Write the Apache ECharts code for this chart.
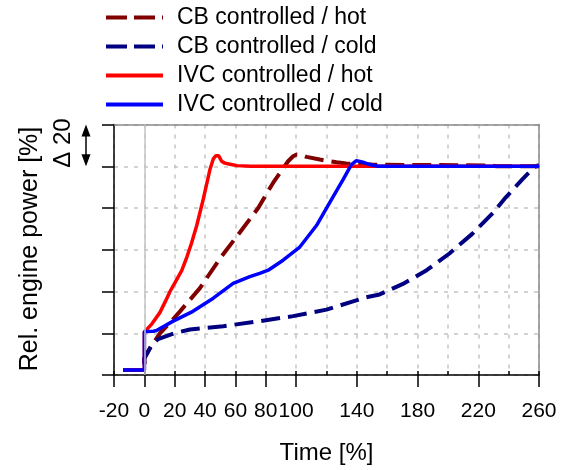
<!DOCTYPE html>
<html>
<head>
<meta charset="utf-8">
<script src="https://cdn.jsdelivr.net/npm/echarts@6/dist/echarts.min.js"></script>
<style>
  html, body { margin: 0; padding: 0; background: #fff; }
  #main { width: 565px; height: 470px; }
</style>
</head>
<body>
<div id="main"></div>
<script>
const chartDom = document.getElementById("main");
const myChart = echarts.init(chartDom);

const FONT = "'Liberation Sans', Arial, sans-serif";

// ticks / labels
const xLabelValues = [-20, 0, 20, 40, 60, 80, 100, 140, 180, 220, 260];

// [time %, rel. power %]
const cbHot = [
  [-14, 2.4], [0, 2.4], [0, 8], [3.7, 13], [10.3, 20], [15.8, 24.2], [23.5, 30.5],
  [30, 36], [36.6, 41.6], [49.8, 55.8], [63, 68.4], [75, 80], [81.6, 88.2],
  [84.9, 92.1], [90, 97.5], [94.7, 102.4], [98, 104.8], [100.3, 105.6], [103, 105.5],
  [106.8, 104.5], [115.6, 103.2], [126.6, 101.9], [133, 101.3], [150, 100.8],
  [180, 100.6], [228, 100.4], [232, 100], [260, 100]
];
const cbCold = [
  [-14, 2.4], [0, 2.4], [0, 8], [5, 14.5], [9, 17.2], [20, 20], [30, 21.8],
  [52, 23.4], [76, 25.8], [98, 28.2], [120, 31.3], [137.5, 35.3], [146, 37.2],
  [155, 38.6], [170, 43.5], [186, 50.2], [201, 58.2], [216, 67.6], [230, 77.9],
  [238, 85], [249, 93.7], [254, 97.5], [258, 100], [260, 100.5]
];
const ivcHot = [
  [-14, 2.4], [0, 2.4], [0, 20.6], [5, 24.5], [10.3, 30], [14, 35.5], [16.9, 40],
  [20, 44], [24.6, 50], [28, 56.5], [31, 63], [34.5, 71.6], [38.8, 84.2],
  [43.2, 98.4], [45.4, 103.5], [47, 105], [49, 105], [50.9, 102.4], [53, 101.5],
  [56.4, 101], [61, 100.3], [70, 100], [260, 100]
];
const ivcCold = [
  [-14, 2.4], [0, 2.4], [0, 20.8], [6, 21], [8, 21.3], [19, 25.8], [32, 30.5],
  [45.4, 36.8], [58.5, 43.9], [69.5, 47.1], [76, 48.7], [81.6, 50.2], [91.4, 55],
  [102.4, 61.3], [113.4, 71.6], [122.2, 82.7], [131, 93.7], [136.4, 100.8],
  [139.7, 102.7], [144, 101.9], [148.5, 100.8], [154, 100], [260, 100]
];

const gridDash = { color: "#c4c4c4", width: 1.5, type: [4, 6] };

function lineSeries(name, data, color, dashed) {
  return {
    name: name,
    type: "line",
    data: data,
    symbol: "none",
    xAxisIndex: 0,
    yAxisIndex: 0,
    silent: true,
    animation: false,
    lineStyle: { color: color, width: dashed ? 4 : 3.5, type: dashed ? [19, 8] : "solid" },
    itemStyle: { color: color }
  };
}

const series = [
  lineSeries("CB controlled / hot", cbHot, "#800000", true),
  lineSeries("CB controlled / cold", cbCold, "#000080", true),
  lineSeries("IVC controlled / hot", ivcHot, "#ff0000", false),
  lineSeries("IVC controlled / cold", ivcCold, "#0000ff", false)
];
series[0].markLine = {
  silent: true,
  symbol: "none",
  label: { show: false },
  lineStyle: { color: "#c4c4c4", type: "solid", width: 1.5 },
  data: [{ xAxis: 0 }]
};

const option = {
  animation: false,
  grid: { left: 114, right: 26, top: 124.5, bottom: 92, containLabel: false },
  legend: {
    orient: "vertical",
    left: 104,
    top: 6,
    padding: 0,
    itemGap: 6,
    itemWidth: 57,
    itemHeight: 14,
    selectedMode: false,
    itemStyle: { opacity: 0 },
    lineStyle: { width: 4 },
    textStyle: { fontSize: 23, fontFamily: FONT, color: "#000", padding: [0, 0, 0, 9] },
    data: series.map((s, i) => i < 2
      ? { name: s.name, lineStyle: { type: [21, 7] } }
      : { name: s.name })
  },
  xAxis: [
    {
      type: "value",
      position: "bottom",
      min: -20,
      max: 260,
      interval: 20,
      axisLine: { show: true, onZero: false, lineStyle: { color: "#000", width: 1.5 } },
      axisTick: { show: true, customValues: xLabelValues, length: 12, lineStyle: { color: "#000", width: 1.5 } },
      axisLabel: { customValues: xLabelValues, fontSize: 21, fontFamily: FONT, color: "#000", margin: 26 },
      splitLine: { show: false },
      name: "Time [%]",
      nameLocation: "middle",
      nameGap: 66,
      nameTextStyle: { fontSize: 24, fontFamily: FONT, color: "#000" }
    },
    {
      type: "value",
      position: "bottom",
      min: -20,
      max: 260,
      interval: 20,
      axisLine: { show: false },
      axisTick: { show: true, inside: true, length: 4, lineStyle: { color: "#000", width: 1.5 } },
      axisLabel: { show: false },
      splitLine: { show: true, lineStyle: gridDash }
    },
    {
      type: "value",
      position: "top",
      min: -20,
      max: 260,
      axisLine: { show: true, onZero: false, lineStyle: { color: "#8a8a8a", width: 1.5 } },
      axisTick: { show: false },
      axisLabel: { show: false },
      splitLine: { show: false }
    }
  ],
  yAxis: [
    {
      type: "value",
      position: "left",
      min: 0,
      max: 120,
      interval: 20,
      axisLine: { show: true, onZero: false, lineStyle: { color: "#000", width: 1.5 } },
      axisTick: { show: true, length: 12, lineStyle: { color: "#000", width: 1.5 } },
      axisLabel: { show: false },
      splitLine: { show: true, lineStyle: gridDash }
    },
    {
      type: "value",
      position: "right",
      min: 0,
      max: 120,
      axisLine: { show: true, onZero: false, lineStyle: { color: "#8a8a8a", width: 1.5 } },
      axisTick: { show: false },
      axisLabel: { show: false },
      splitLine: { show: false }
    }
  ],
  series: series
};

myChart.setOption(option);

// y-axis title, scale note and the double arrow spanning one interval
const yTop = myChart.convertToPixel({ yAxisIndex: 0 }, 120);
const yStep = myChart.convertToPixel({ yAxisIndex: 0 }, 100);
const ax = 86;
myChart.setOption({
  graphic: [
    {
      type: "text",
      x: 30,
      y: 249,
      rotation: Math.PI / 2,
      style: { text: "Rel. engine power [%]", fontSize: 25, fontFamily: FONT, fill: "#000", align: "center", verticalAlign: "middle" }
    },
    {
      type: "text",
      x: 63,
      y: 143,
      rotation: Math.PI / 2,
      style: { text: "Δ 20", fontSize: 24, fontFamily: FONT, fill: "#000", align: "center", verticalAlign: "middle" }
    },
    {
      type: "line",
      shape: { x1: ax, y1: yTop + 8, x2: ax, y2: yStep - 8 },
      style: { stroke: "#000", lineWidth: 1.5 }
    },
    {
      type: "polygon",
      shape: { points: [[ax, yTop], [ax - 4.5, yTop + 12], [ax + 4.5, yTop + 12]] },
      style: { fill: "#000" }
    },
    {
      type: "polygon",
      shape: { points: [[ax, yStep], [ax - 4.5, yStep - 12], [ax + 4.5, yStep - 12]] },
      style: { fill: "#000" }
    }
  ]
});
</script>
</body>
</html>
